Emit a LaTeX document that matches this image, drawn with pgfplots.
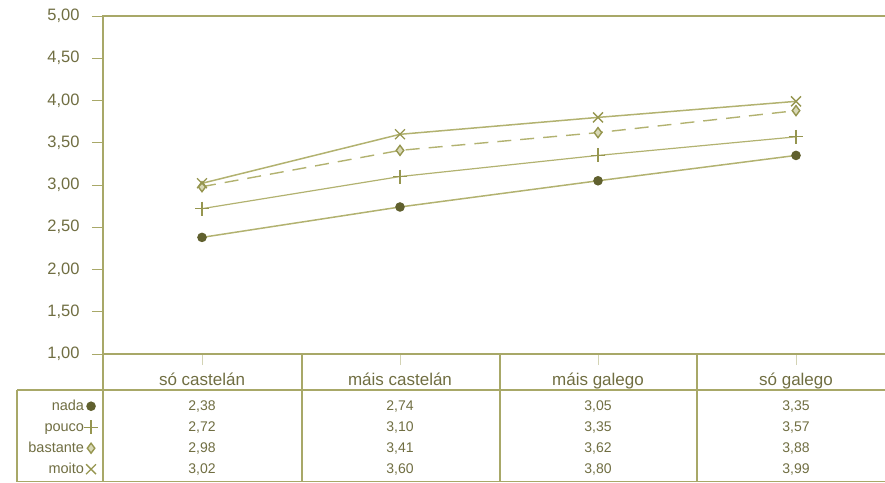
\documentclass[border=0pt]{standalone}
\usepackage{fontspec}
\setmainfont{Liberation Sans}
\usepackage{pgfplots}
\usepackage{pgfplotstable}
\pgfplotsset{compat=1.18}
\definecolor{txt}{RGB}{112,110,66}
\definecolor{frm}{RGB}{168,168,104}
\definecolor{ln}{RGB}{178,178,112}
\definecolor{mk}{RGB}{96,96,46}
\definecolor{mk2}{RGB}{150,150,80}

\pgfplotstableread{
x nada pouco bastante moito
0 2.38 2.72 2.98 3.02
1 2.74 3.10 3.41 3.60
2 3.05 3.35 3.62 3.80
3 3.35 3.57 3.88 3.99
}\data

\newcommand{\fy}{\fontsize{16.5}{19}\selectfont}
\newcommand{\fc}{\fontsize{17}{20}\selectfont}
\newcommand{\fl}{\fontsize{14.5}{17}\selectfont}
\newcommand{\fd}{\fontsize{14}{16}\selectfont}

\begin{document}
\begin{tikzpicture}
\path[use as bounding box] (0pt,0pt) rectangle (885pt,482pt);
\begin{axis}[
  at={(103pt,128pt)}, anchor=south west,
  scale only axis, width=792pt, height=338pt,
  xmin=-0.5, xmax=3.5, ymin=1, ymax=5,
  clip=false,
  axis line style={frm, line width=1.3pt},
  xtick={0,1,2,3},
  xticklabels={só castelán, máis castelán, máis galego, só galego},
  ytick={1,1.5,2,2.5,3,3.5,4,4.5,5},
  tick align=outside,
  xtick pos=bottom, ytick pos=left,
  major tick length=11pt,
  tick style={frm, line width=1pt},
  x tick style={frm!50},
  /pgf/number format/fixed,
  /pgf/number format/fixed zerofill,
  /pgf/number format/precision=2,
  /pgf/number format/use comma,
  /pgf/number format/assume math mode=true,
  ticklabel style={text=txt},
  yticklabel style={font=\fy, xshift=-9pt},
  xticklabel style={font=\fc, anchor=base, yshift=-20pt},
  legend style={at={(-0.006,-0.1317)}, anchor=north east, draw=none, fill=none,
    font=\fl, text=txt, inner sep=0pt, row sep=6pt,
    nodes={inner sep=0pt, text height=11.5pt, text depth=3.5pt}},
  legend plot pos=right,
  legend cell align=right,
  legend image code/.code={\draw[#1, only marks] plot coordinates {(5pt,0pt)};},
]
\addplot[ln, line width=1.5pt, mark=*, mark size=4pt, mark options={solid, fill=mk, draw=mk}] table[x=x, y=nada] {\data};
\addlegendentry{nada}
\addplot[ln, line width=1.2pt, mark=+, mark size=7pt, mark options={solid, draw=mk2, line width=1.2pt}] table[x=x, y=pouco] {\data};
\addlegendentry{pouco}
\addplot[ln, line width=1.4pt, dash pattern=on 14pt off 9pt, mark=diamond*, mark size=5pt, mark options={solid, draw=mk2, fill=ln!50}] table[x=x, y=bastante] {\data};
\addlegendentry{bastante}
\addplot[ln, line width=1.5pt, mark=x, mark size=7pt, mark options={solid, draw=mk2, line width=1.3pt}] table[x=x, y=moito] {\data};
\addlegendentry{moito}
\end{axis}
\begin{scope}[x=1pt, y=1pt, frm, line width=1.2pt]
  \draw (103,128) -- (103,0.6);
  \draw (302,128) -- (302,0.6);
  \draw (500,128) -- (500,0.6);
  \draw (697,128) -- (697,0.6);
  \draw (17,92) -- (895,92);
  \draw (17,92) -- (17,0.6) -- (895,0.6);
  \begin{scope}[every node/.style={font=\fd, text=txt, anchor=base}]
    \node at (202,72) {2,38}; \node at (400,72) {2,74}; \node at (598,72) {3,05}; \node at (796,72) {3,35};
    \node at (202,51) {2,72}; \node at (400,51) {3,10}; \node at (598,51) {3,35}; \node at (796,51) {3,57};
    \node at (202,30) {2,98}; \node at (400,30) {3,41}; \node at (598,30) {3,62}; \node at (796,30) {3,88};
    \node at (202,9) {3,02}; \node at (400,9) {3,60}; \node at (598,9) {3,80}; \node at (796,9) {3,99};
  \end{scope}
\end{scope}
\end{tikzpicture}
\end{document}
